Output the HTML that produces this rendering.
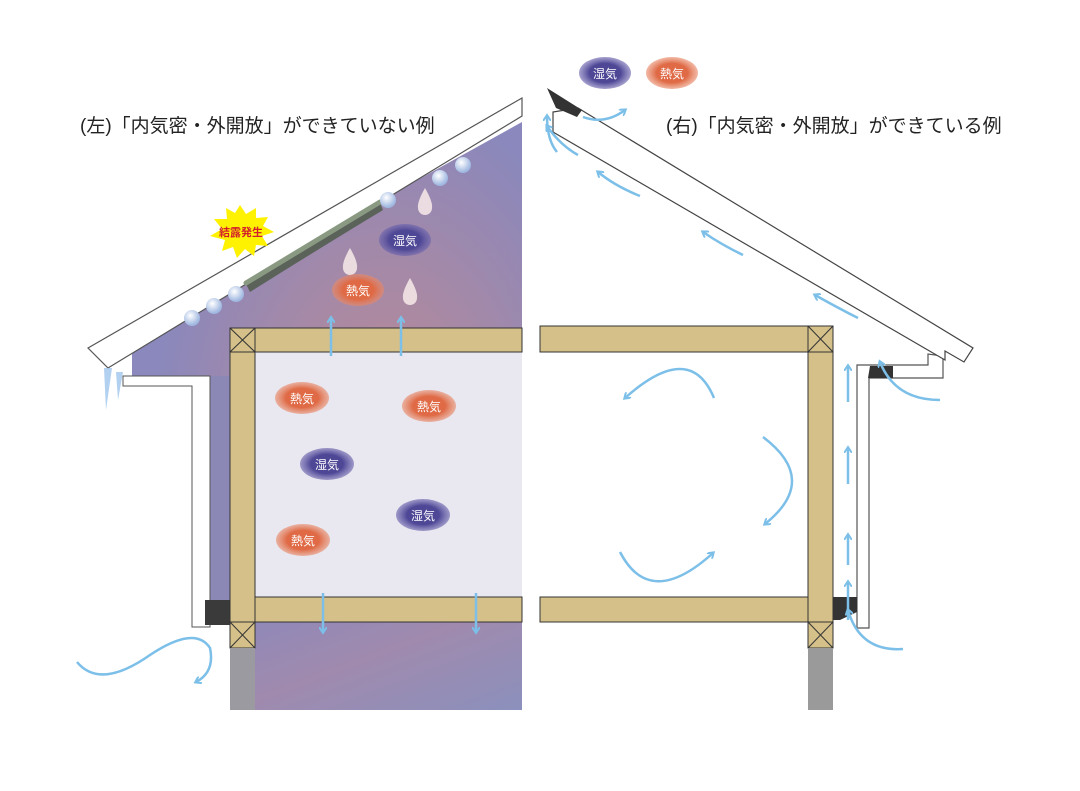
<!DOCTYPE html>
<html><head><meta charset="utf-8"><style>
html,body{margin:0;padding:0;background:#fff}
svg{display:block}
text{font-family:"Liberation Sans","Noto Sans CJK JP",sans-serif}
</style></head><body>
<svg width="1080" height="791" viewBox="0 0 1080 791" xmlns="http://www.w3.org/2000/svg">
<defs>
<linearGradient id="pg" x1="0" y1="0" x2="1" y2="1">
<stop offset="0" stop-color="#8a88bc"/><stop offset="0.5" stop-color="#a08aae"/><stop offset="1" stop-color="#8b90bc"/>
</linearGradient>
<radialGradient id="att" cx="0.65" cy="0.55" r="0.6">
<stop offset="0" stop-color="#c08a92"/><stop offset="1" stop-color="#8a88bc"/>
</radialGradient>
<radialGradient id="ball" cx="0.4" cy="0.35" r="0.6">
<stop offset="0" stop-color="#ffffff"/><stop offset="1" stop-color="#9fb7e0"/>
</radialGradient>
<radialGradient id="red" cx="0.5" cy="0.5" r="0.5">
<stop offset="0.6" stop-color="#df6a45"/><stop offset="1" stop-color="#e88a6a" stop-opacity="0.6"/>
</radialGradient>
<radialGradient id="blu" cx="0.5" cy="0.5" r="0.5">
<stop offset="0.6" stop-color="#4e4796"/><stop offset="1" stop-color="#6b63ad" stop-opacity="0.6"/>
</radialGradient>
<marker id="ah" markerWidth="8" markerHeight="8" refX="5" refY="4" orient="auto" markerUnits="userSpaceOnUse">
<path d="M0,0 L6,4 L0,8" fill="none" stroke="#7cbfe8" stroke-width="2"/>
</marker>
</defs>

<polygon points="132,338 522,122 522,710 230,710 230,600 210,600 210,376 132,376" fill="url(#att)"/>
<rect x="230" y="600" width="292" height="110" fill="url(#pg)"/>
<rect x="210" y="376" width="20" height="230" fill="#8c88b6"/>
<rect x="255" y="352" width="267" height="245" fill="#e9e8f0"/>
<polygon points="123,376 210,376 210,627 192,627 192,386 123,386" fill="#fff" stroke="#555" stroke-width="1"/>
<rect x="205" y="600" width="25" height="25" fill="#3a3a3a"/>
<polygon points="88,348 522,98 522,116 108,368" fill="#fff" stroke="#555" stroke-width="1.2"/>
<path d="M104,368 L106,410 L112,368 Z M116,372 L118,400 L123,372 Z" fill="#9fc6ec" opacity="0.8"/>
<!-- mold -->
<path d="M246,284 L380,203 L383,210 Q320,248 250,292 Z" fill="#5a625a"/>
<path d="M246,283 L380,202" stroke="#8a9a82" stroke-width="5" fill="none" stroke-linecap="round"/>
<g fill="url(#ball)">
<circle cx="192" cy="318" r="8"/><circle cx="214" cy="306" r="8"/><circle cx="236" cy="294" r="8"/>
<circle cx="388" cy="200" r="8"/><circle cx="440" cy="178" r="8"/><circle cx="463" cy="165" r="8"/>
</g>
<g fill="#f3e6e6" opacity="0.9">
<path d="M350,248 Q342,262 343,268 A7,7 0 0 0 357,268 Q358,262 350,248 Z"/>
<path d="M410,278 Q402,292 403,298 A7,7 0 0 0 417,298 Q418,292 410,278 Z"/>
<path d="M425,188 Q417,202 418,208 A7,7 0 0 0 432,208 Q433,202 425,188 Z"/>
</g>
<polygon points="240,205 246,214 256,208 256,218 268,217 263,226 274,232 262,236 268,246 256,245 254,256 245,249 237,258 233,247 222,251 225,240 210,236 222,229 214,219 227,219 226,208 235,213" fill="#fff200"/>
<text x="241" y="236" font-size="11" font-weight="bold" fill="#d2202a" text-anchor="middle">結露発生</text>

<g fill="#d5c08a" stroke="#333" stroke-width="1">
<rect x="255" y="328" width="267" height="24"/>
<rect x="230" y="352" width="25" height="270"/>
<rect x="255" y="597" width="267" height="25"/>
<rect x="230" y="328" width="25" height="24"/>
<rect x="230" y="622" width="25" height="26"/>
</g>
<path d="M230,328 L255,352 M255,328 L230,352 M230,622 L255,648 M255,622 L230,648" stroke="#333" stroke-width="1"/>
<rect x="230" y="648" width="25" height="62" fill="#9a9aa0"/>

<g stroke="#7cbfe8" stroke-width="2.5" fill="none" marker-end="url(#ah)">
<path d="M331,356 L331,318"/><path d="M401,356 L401,318"/>
<path d="M323,593 L323,632"/><path d="M476,593 L476,632"/>
<path d="M77,662 Q100,690 150,655 Q195,625 210,648 Q215,672 196,682"/>
</g>

<rect x="540" y="326" width="268" height="26" fill="#d5c08a" stroke="#333"/>
<g fill="#d5c08a" stroke="#333" stroke-width="1">
<rect x="808" y="326" width="25" height="26"/>
<rect x="808" y="352" width="25" height="270"/>
<rect x="540" y="597" width="268" height="25"/>
<rect x="808" y="622" width="25" height="26"/>
</g>
<path d="M808,326 L833,352 M833,326 L808,352 M808,622 L833,648 M833,622 L808,648" stroke="#333"/>
<rect x="808" y="648" width="25" height="62" fill="#9a9a9a"/>
<path d="M857,628 L857,365 L928,365 L928,354 L943,356 L943,378 L869,378 L869,628 Z" fill="#fff" stroke="#555" stroke-width="1.2"/>
<polygon points="870,366 893,366 893,378 868,378" fill="#333"/>
<polygon points="833,597 857,597 857,612 840,620 833,620" fill="#333"/>
<polygon points="553,112 578,108 973,348 964,362 945,351 945,360 553,132" fill="#fff" stroke="#444" stroke-width="1.2"/>
<polygon points="547,88 582,110 577,117 556,108" fill="#333"/>

<g stroke="#7cbfe8" stroke-width="2.5" fill="none" marker-end="url(#ah)">
<path d="M557,152 Q547,140 547,116"/>
<path d="M578,155 Q560,145 547,126"/>
<path d="M583,117 Q605,125 625,110"/>
<path d="M640,196 Q615,186 598,172"/>
<path d="M743,255 Q722,245 703,232"/>
<path d="M858,318 Q838,308 815,295"/>
<path d="M848,620 L848,582"/><path d="M848,565 L848,535"/><path d="M848,484 L848,448"/><path d="M848,402 L848,366"/>
<path d="M903,649 Q860,652 848,610"/>
<path d="M940,400 Q895,400 880,362"/>
<path d="M714,398 Q690,340 625,398"/>
<path d="M763,437 Q820,480 765,524"/>
<path d="M620,552 Q650,610 713,553"/>
</g>

<g font-size="12" fill="#fff" text-anchor="middle">
<ellipse cx="605" cy="73" rx="26" ry="16" fill="url(#blu)"/><text x="605" y="78">湿気</text>
<ellipse cx="672" cy="73" rx="26" ry="16" fill="url(#red)"/><text x="672" y="78">熱気</text>
<ellipse cx="405" cy="240" rx="26" ry="16" fill="url(#blu)"/><text x="405" y="245">湿気</text>
<ellipse cx="358" cy="290" rx="26" ry="16" fill="url(#red)"/><text x="358" y="295">熱気</text>
<ellipse cx="302" cy="398" rx="27" ry="16" fill="url(#red)"/><text x="302" y="403">熱気</text>
<ellipse cx="429" cy="406" rx="27" ry="16" fill="url(#red)"/><text x="429" y="411">熱気</text>
<ellipse cx="327" cy="464" rx="27" ry="16" fill="url(#blu)"/><text x="327" y="469">湿気</text>
<ellipse cx="423" cy="515" rx="27" ry="16" fill="url(#blu)"/><text x="423" y="520">湿気</text>
<ellipse cx="303" cy="540" rx="27" ry="16" fill="url(#red)"/><text x="303" y="545">熱気</text>
</g>

<text x="80" y="132" font-size="19" fill="#222">(左)「内気密・外開放」ができていない例</text>
<text x="666" y="132" font-size="19" fill="#222">(右)「内気密・外開放」ができている例</text>
</svg>
</body></html>
